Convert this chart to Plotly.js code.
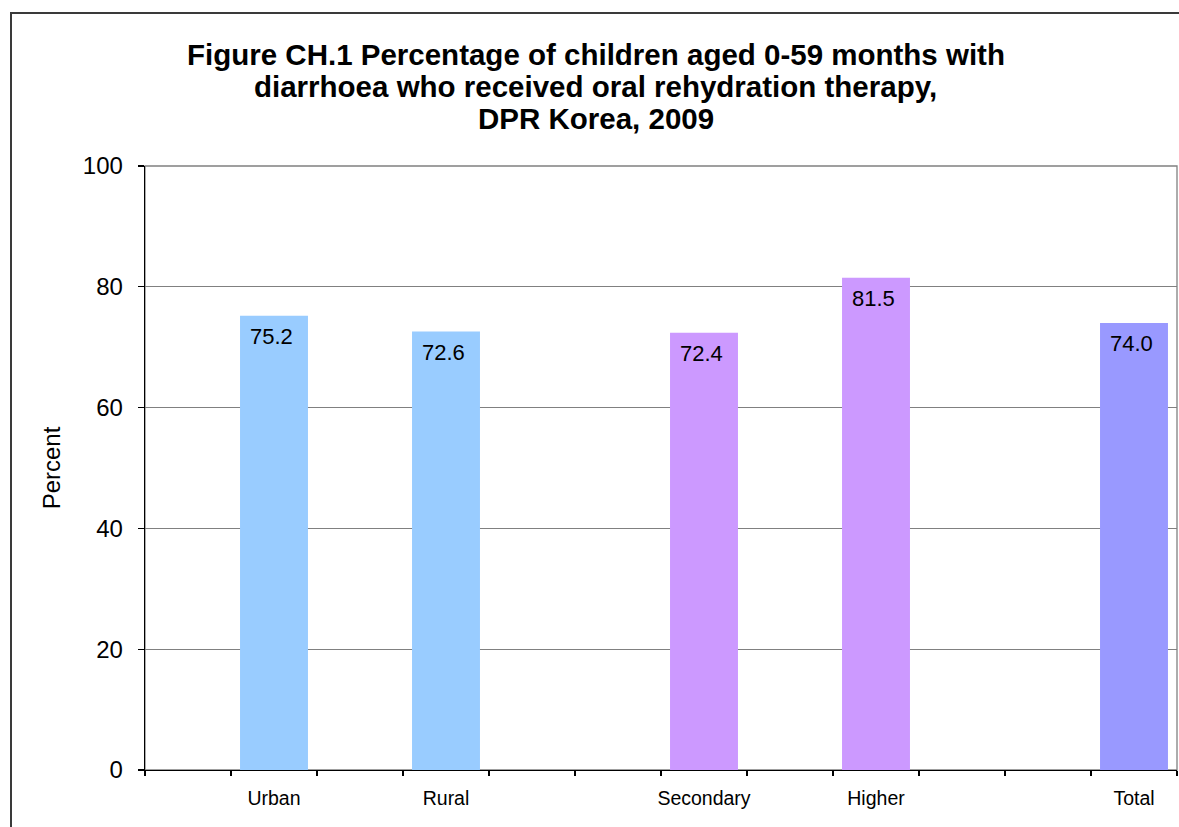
<!DOCTYPE html>
<html>
<head>
<meta charset="utf-8">
<script src="https://cdn.plot.ly/plotly-3.0.1.min.js"></script>
<style>
  html, body { margin: 0; padding: 0; background: #fff; }
  #chart { position: absolute; left: 0; top: 0; width: 1179px; height: 827px; }
  #frame {
    position: absolute; left: 10px; top: 12px; width: 1220px; height: 900px;
    border: 2px solid #3a3a3a; pointer-events: none; box-sizing: border-box;
  }
</style>
</head>
<body>
<div id="chart"></div>
<div id="frame"></div>
<script>
// Category slots along the x axis; whitespace entries are empty spacer slots
const categories = [" ", "Urban", "  ", "Rural", "   ", "    ",
                    "Secondary", "     ", "Higher", "      ", "       ", "Total"];
// Percent of children with diarrhoea who received ORT, per slot (null = spacer)
const percentValues = [null, 75.2, null, 72.6, null, null,
                       72.4, null, 81.5, null, null, 74.0];
// Bar fill per slot: residence, mother's education, total
const barColors = ["#99CCFF", "#99CCFF", "#99CCFF", "#99CCFF", "#99CCFF", "#99CCFF",
                   "#CC99FF", "#CC99FF", "#CC99FF", "#CC99FF", "#CC99FF", "#9999FF"];
const yTickValues = [0, 20, 40, 60, 80, 100];
const titleLines = [
  "Figure CH.1 Percentage of children aged 0-59 months with",
  "diarrhoea who received oral rehydration therapy,",
  "DPR Korea, 2009"
];

const FONT = "'Liberation Sans', Arial, Helvetica, sans-serif";

const trace = {
  type: "bar",
  x: categories,
  y: percentValues,
  width: 0.79,
  marker: { color: barColors, line: { width: 0 } },
  hoverinfo: "x+y",
  showlegend: false
};

// Value labels sit just inside the top of each bar
const annotations = [];
categories.forEach((c, i) => {
  const v = percentValues[i];
  if (v === null) return;
  annotations.push({
    x: c, y: v, xref: "x", yref: "y",
    text: v.toFixed(1),
    showarrow: false,
    xanchor: "center", yanchor: "top",
    xshift: -3, yshift: -6,
    font: { family: FONT, size: 22, color: "#000" }
  });
});

// Three-line bold heading, one line per annotation for tight line spacing
const titleY = [1.1850, 1.1320, 1.0785];
titleLines.forEach((line, i) => {
  annotations.push({
    text: "<b>" + line + "</b>",
    xref: "paper", yref: "paper",
    x: 0.437, y: titleY[i],
    xanchor: "center", yanchor: "middle",
    showarrow: false,
    font: { family: FONT, size: 29.5, color: "#000" }
  });
});

const layout = {
  width: 1179,
  height: 827,
  paper_bgcolor: "#fff",
  plot_bgcolor: "#fff",
  margin: { l: 145, r: 2, t: 166, b: 57 },
  font: { family: FONT, color: "#000" },
  xaxis: {
    type: "category",
    categoryorder: "array",
    categoryarray: categories,
    range: [-0.5, categories.length - 0.5],
    tickson: "boundaries",
    ticks: "outside",
    ticklen: 5,
    tickwidth: 1.3,
    tickcolor: "#000",
    tickangle: 0,
    showline: true,
    linecolor: "#000",
    linewidth: 1.3,
    showgrid: false,
    tickfont: { family: FONT, size: 19.5, color: "#000" },
    ticklabelstandoff: 10,
    fixedrange: true
  },
  yaxis: {
    range: [0, 100],
    tickvals: yTickValues,
    ticks: "outside",
    ticklen: 6,
    tickwidth: 1.3,
    tickcolor: "#000",
    showline: true,
    linecolor: "#000",
    linewidth: 1.3,
    showgrid: true,
    gridcolor: "#808080",
    gridwidth: 1.3,
    zeroline: false,
    tickfont: { family: FONT, size: 24, color: "#000" },
    ticklabelstandoff: 10,
    title: {
      text: "Percent",
      font: { family: FONT, size: 24, color: "#000" },
      standoff: 15
    },
    fixedrange: true
  },
  shapes: [{
    type: "rect", xref: "paper", yref: "paper",
    x0: 0, x1: 1, y0: 0, y1: 1,
    line: { color: "#808080", width: 1.3 },
    fillcolor: "rgba(0,0,0,0)",
    layer: "below"
  }],
  annotations: annotations,
  bargap: 0.21
};

Plotly.newPlot("chart", [trace], layout, { displayModeBar: false, staticPlot: true });
</script>
</body>
</html>
